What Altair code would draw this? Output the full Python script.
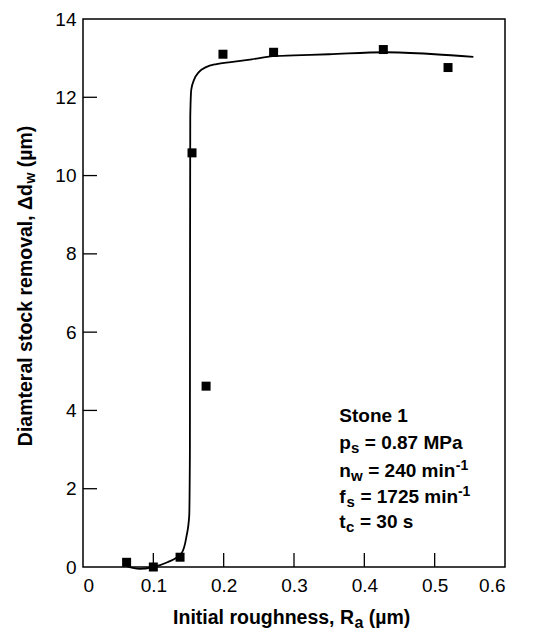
import altair as alt
import pandas as pd

# measured data points (squares)
pt_x = [0.062, 0.100, 0.138, 0.155, 0.175, 0.199, 0.271, 0.427, 0.519]
pt_y = [0.12, 0.00, 0.25, 10.58, 4.62, 13.10, 13.15, 13.22, 12.76]

# fitted curve
cv_x = [0.062, 0.080, 0.100, 0.120, 0.140, 0.147, 0.151, 0.1520, 0.1522, 0.1525,
        0.154, 0.158, 0.165, 0.175, 0.190, 0.210, 0.240, 0.270, 0.300, 0.350,
        0.430, 0.500, 0.555]
cv_y = [0.02, -0.05, 0.00, 0.12, 0.35, 0.77, 1.30, 3.00, 8.00, 11.50,
        12.20, 12.45, 12.65, 12.77, 12.85, 12.90, 12.97, 13.05, 13.07, 13.10,
        13.15, 13.10, 13.03]

x_ticks = [0, 0.1, 0.2, 0.3, 0.4, 0.5, 0.6]
y_ticks = [0, 2, 4, 6, 8, 10, 12, 14]
x_inner = [0.1, 0.2, 0.3, 0.4, 0.5]
y_inner = [2, 4, 6, 8, 10, 12]

FONT = "Liberation Sans"
W, H = 422, 548
TICK = 14
SP = 5.3  # width of a bold space at 19px

xs = alt.Scale(domain=[0, 0.6], nice=False, zero=False)
ys = alt.Scale(domain=[0, 14], nice=False, zero=False)

pts = pd.DataFrame({"x": pt_x, "y": pt_y})
curve = pd.DataFrame({"x": cv_x, "y": cv_y})

line = alt.Chart(curve).mark_line(color="black", strokeWidth=1.8, interpolate="monotone").encode(
    x=alt.X("x:Q", scale=xs,
            axis=alt.Axis(values=x_ticks, format="~g", title=None, ticks=False, tickSize=0,
                          domain=False, grid=False, labelFont=FONT, labelFontSize=19,
                          labelColor="black", labelPadding=9)),
    y=alt.Y("y:Q", scale=ys,
            axis=alt.Axis(values=y_ticks, title=None, ticks=False, tickSize=0,
                          domain=False, grid=False, labelFont=FONT, labelFontSize=19,
                          labelColor="black", labelPadding=7)),
)

squares = alt.Chart(pts).mark_square(size=81, color="black", opacity=1).encode(
    x=alt.X("x:Q", scale=xs), y=alt.Y("y:Q", scale=ys))

xt = alt.Chart(pd.DataFrame({"x": x_inner})).mark_rule(color="black", strokeWidth=1.3).encode(
    x=alt.X("x:Q", scale=xs), y=alt.value(H), y2=alt.value(H - TICK))
yt = alt.Chart(pd.DataFrame({"y": y_inner})).mark_rule(color="black", strokeWidth=1.3).encode(
    y=alt.Y("y:Q", scale=ys), x=alt.value(0), x2=alt.value(TICK))

layers = [line, squares, xt, yt]

# annotation block
ax0 = 0.3644
rows = [3.71, 3.01, 2.31, 1.64, 0.99]
MS, SS = 19, 15
ann = [
    # (text, row, dx, dy, size)
    ("Stone 1", 0, 0, 0, MS),
    ("p", 1, 0, 0, MS), ("s", 1, 11.6, 4, SS), ("= 0.87 MPa", 1, 20.2 + SP, 0, MS),
    ("n", 2, 0, 0, MS), ("w", 2, 11.6, 4, SS), ("= 240 min", 2, 23.6 + SP, 0, MS), ("-1", 2, 116.5, -7, 14),
    ("f", 3, 0, 0, MS), ("s", 3, 7.2, 4, SS), ("= 1725 min", 3, 15.8 + SP, 0, MS), ("-1", 3, 118.6, -7, 14),
    ("t", 4, 0, 0, MS), ("c", 4, 6.8, 4, SS), ("= 30 s", 4, 15.4 + SP, 0, MS),
]
for txt, r, dx, dy, sz in ann:
    layers.append(
        alt.Chart(pd.DataFrame({"t": [txt]})).mark_text(
            align="left", baseline="alphabetic", dx=dx, dy=dy, font=FONT,
            fontSize=sz, fontWeight="bold", color="black").encode(
            x=alt.datum(ax0), y=alt.datum(rows[r]), text="t:N"))


def tmark(txt, x, y, size, align, angle=0, dy=0):
    kw = dict(align=align, baseline="alphabetic", font=FONT, fontSize=size,
              fontWeight="bold", color="black", dy=dy)
    if angle:
        kw["angle"] = angle
    return alt.Chart(pd.DataFrame({"t": [txt]})).mark_text(**kw).encode(
        x=alt.value(x), y=alt.value(y), text="t:N")

# x-axis title: Initial roughness, R_a (µm)
JX, BX = 271, 605
layers.append(tmark("Initial roughness, R", JX, BX, 19.5, "right"))
layers.append(tmark("a", JX + 0.5, BX + 4, 16, "left"))
layers.append(tmark("(\u00b5m)", JX + 9.4 + SP, BX, 19.5, "left"))

# y-axis title: Diamteral stock removal, Δd_w (µm)
JY, BY = 165, -51
layers.append(tmark("Diamteral stock removal, \u0394d", BY, JY, 19.5, "right", angle=270))
layers.append(tmark("w", BY, JY - 0.5, 14, "left", angle=270, dy=3))
layers.append(tmark("(\u00b5m)", BY, JY - 11.4 - SP, 19.5, "left", angle=270))

chart = alt.layer(*layers).properties(
    width=W, height=H,
    autosize=alt.AutoSizeParams(type="none"),
    padding={"left": 75, "top": 11, "right": 30, "bottom": 64},
    background="white",
).configure_view(stroke="black", strokeWidth=1.5)

chart.save("out.html", embed_options={"renderer": "svg", "actions": False})
